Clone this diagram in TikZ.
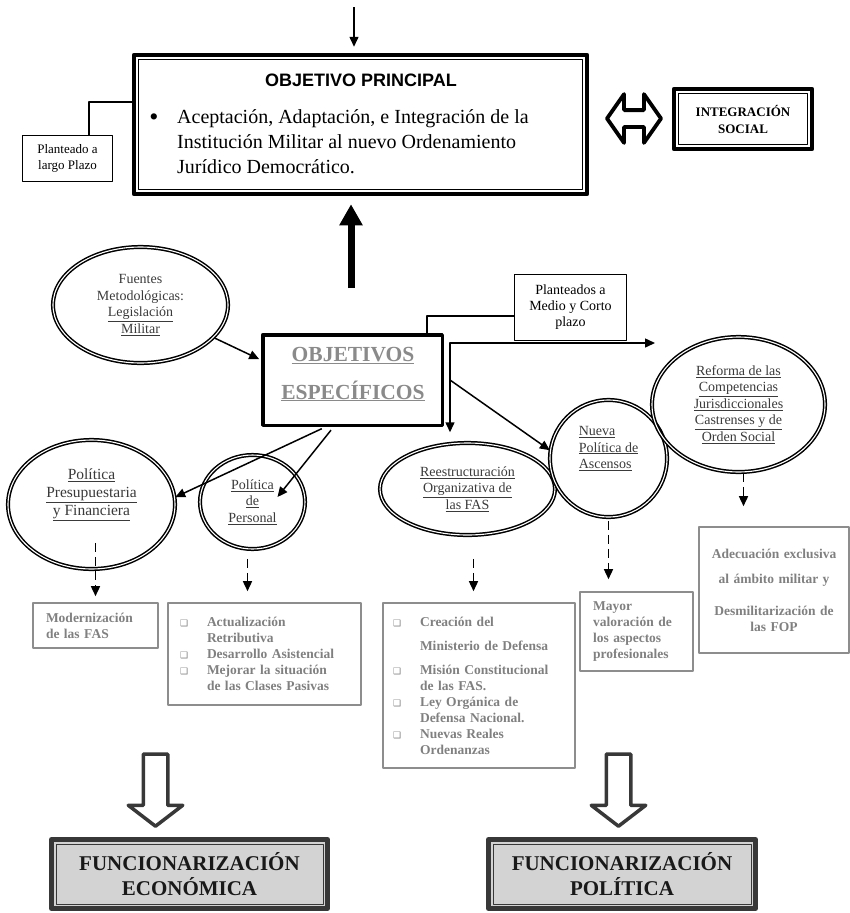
\documentclass[tikz,border=0pt]{standalone}
\usepackage{fontspec}
\setmainfont{Liberation Serif}
\newfontfamily\headfont{Liberation Sans}
\newfontfamily\symfont{DejaVu Sans}
\usetikzlibrary{arrows.meta,shapes.geometric,shapes.arrows,calc}

\definecolor{listgray}{HTML}{808080}
\definecolor{ringgray}{HTML}{3A3A3A}
\definecolor{espgray}{HTML}{8A8A8A}
\definecolor{funcfill}{HTML}{D3D3D3}
\definecolor{funcdark}{HTML}{383838}

\newcommand{\sqbul}{\makebox[27pt][l]{\symfont\fontsize{9}{9}\selectfont ❑}}
\newcommand{\nobul}{\hspace*{27pt}}

\begin{document}
\begin{tikzpicture}[
        x=1pt, y=-1pt,
        line join=round,
        arr/.style = {line width=1.5pt, -{Triangle[length=10pt,width=9pt]}},
        twoarr/.style = {line width=1.5pt, {Triangle[length=10pt,width=9pt]}-{Triangle[length=10pt,width=9pt]}},
        dasharr/.style = {arr, dash pattern=on 9pt off 5pt},
        bigarr/.style = {line width=7pt, -{Triangle[length=21pt,width=22pt]}},
        joint/.style = {line width=1.5pt},
        mainbox/.style = {draw, line width=4.5pt, inner sep=0pt},
        innerframe/.style = {line width=1.3pt},
        smallbox/.style = {draw, line width=1.3pt, inner sep=0pt, align=center},
        ringtext/.style = {align=center, text=ringgray, font=\fontsize{14}{16.5}\selectfont},
        ring/.style = {ellipse, draw, line width=1.5pt, double, double distance=1.1pt, inner sep=0pt, ringtext},
        listbox/.style = {draw=listgray!90, line width=1.6pt, align=left, text=listgray, font=\bfseries\fontsize{13.5}{16}\selectfont},
        funcbox/.style = {draw=funcdark, fill=funcfill, line width=5pt, inner sep=0pt, align=center, text=black!90, font=\bfseries\fontsize{21}{25}\selectfont},
        hollow/.style = {single arrow, draw=funcdark, fill=white, line width=3.5pt, minimum height=72pt, inner sep=10.5pt, single arrow head extend=15pt, single arrow tip angle=105, rotate=-90},
        dblarrow/.style = {double arrow, draw, fill=white, line width=3.8pt, minimum height=54pt, inner sep=6.5pt, double arrow head extend=16pt, double arrow tip angle=110}
    ]

    \useasboundingbox (0,0) rectangle (850,913);

    % objetivo principal
    \node[mainbox, minimum width=453pt, minimum height=139pt] (obj) at (360.5,124.5) {};
    \draw[innerframe] ($(obj.north west)+(7,7)$) rectangle ($(obj.south east)+(-7,-7)$);
    \node[font=\headfont\bfseries\fontsize{18}{20}\selectfont] (objtitle) at (361,80) {OBJETIVO PRINCIPAL};
    \node[font=\fontsize{26}{26}\selectfont] (objbullet) at (154,120) {•};
    \node[anchor=west, align=left, inner sep=0pt, font=\fontsize{20}{25}\selectfont] (objtext) at (177,142)
        {Aceptación, Adaptación, e Integración de la\\Institución Militar al nuevo Ordenamiento\\Jurídico Democrático.};

    \node[smallbox, minimum width=90pt, minimum height=46pt, font=\fontsize{13}{16}\selectfont] (plz) at (67.5,158.5) {Planteado a\\largo Plazo};
    \coordinate (plzbend) at (89,102);
    \draw[joint] (plz.north -| plzbend) |- (obj.west |- plzbend);

    \node[dblarrow] (both) at (634,118.5) {};
    \node[mainbox, minimum width=138pt, minimum height=60pt, align=center, font=\bfseries\fontsize{13}{17}\selectfont] (soc) at (743,119) {INTEGRACIÓN\\SOCIAL};
    \draw[innerframe] ($(soc.north west)+(7,7)$) rectangle ($(soc.south east)+(-7,-7)$);

    \coordinate (topin) at (354,7);
    \draw[arr, shorten >=6pt] (topin) -- (topin |- obj.north);

    % objetivos especificos
    \node[draw, line width=3.5pt, minimum width=179.5pt, minimum height=90.5pt] (esp) at (352.5,380) {};
    \node[align=center, text=espgray, font=\bfseries\fontsize{21.5}{38}\selectfont] (esptxt) at (353,374) {\underline{OBJETIVOS}\\\underline{ESPECÍFICOS}};

    \coordinate (upfoot) at (351,288);
    \draw[bigarr, shorten >=8pt] (upfoot) -- (upfoot |- obj.south);

    \node[ring, minimum width=175pt, minimum height=116pt] (fuen) at (140.5,305) {Fuentes\\Metodológicas:\\\underline{Legislación}\\\underline{Militar}};
    \draw[arr, shorten >=2pt] (fuen.-24) -- ([yshift=20pt]esp.west);

    \node[smallbox, minimum width=112pt, minimum height=66pt, font=\fontsize{14}{16}\selectfont] (pmc) at (570.5,307.5) {Planteados a\\Medio y Corto\\plazo};
    \coordinate (pmcbend) at (427,316);
    \draw[joint] (esp.north -| pmcbend) |- (pmc.west |- pmcbend);

    % ejes de actuacion
    \node[ring, minimum width=167pt, minimum height=129pt] (pres) at (91.5,504.5) {};
    \node[ringtext, font=\fontsize{15.5}{18}\selectfont] (prestxt) at (91.5,495) {\underline{Política}\\\underline{Presupuestaria}\\\underline{y Financiera}};
    \node[ring, minimum width=105pt, minimum height=94pt] (per) at (252.5,502) {\underline{Política}\\\underline{de}\\\underline{Personal}};
    \node[ring, minimum width=175pt, minimum height=92pt] (ree) at (467.5,489) {\underline{Reestructuración}\\\underline{Organizativa de}\\\underline{las FAS}};
    \node[ring, minimum width=117pt, minimum height=117pt] (asc) at (608.5,458.5) {};
    \node[ringtext, align=left] (asctxt) at (608.5,448.5) {\underline{Nueva}\\\underline{Política de}\\\underline{Ascensos}};
    \node[ring, minimum width=173pt, minimum height=135pt] (ref) at (738.5,404.5) {\underline{Reforma de las}\\\underline{Competencias}\\\underline{Jurisdiccionales}\\\underline{Castrenses y de}\\\underline{Orden Social}};

    \draw[arr, shorten <=4pt] (esp.-120) -- (pres.5);
    \draw[arr, shorten <=4pt] (esp.-112) -- ($(per.center)+(25,-5)$);
    \coordinate (split) at (450,343);
    \coordinate (rightend) at (655,343);
    \draw[twoarr, shorten >=10pt] (rightend) -| (ree.north -| split);
    \draw[arr] (split |- esp.east) -- (asc.172);

    % resultados
    \node[listbox, minimum width=125pt, minimum height=45pt, inner xsep=13pt, text width=99pt] (mod) at (95.5,625.5) {Modernización\\de las FAS};
    \node[listbox, minimum width=193pt, minimum height=102pt, inner xsep=12pt, text width=169pt] (act) at (264.5,654) {\sqbul Actualización\\\nobul Retributiva\\\sqbul Desarrollo Asistencial\\\sqbul Mejorar la situación\\\nobul de las Clases Pasivas};
    \node[listbox, minimum width=192pt, minimum height=165pt, inner xsep=10pt, text width=172pt] (crea) at (479,685.5) {\sqbul Creación del\\[8pt]\nobul Ministerio de Defensa\\[8pt]\sqbul Misión Constitucional\\\nobul de las FAS.\\\sqbul Ley Orgánica de\\\nobul Defensa Nacional.\\\sqbul Nuevas Reales\\\nobul Ordenanzas};
    \node[listbox, minimum width=113pt, minimum height=79pt, inner xsep=13pt, text width=87pt] (may) at (636.5,631.5) {Mayor\\valoración de\\los aspectos\\profesionales};
    \node[listbox, align=center, minimum width=150pt, minimum height=126pt, inner xsep=7pt, text width=136pt] (ade) at (774,590) {Adecuación exclusiva\\[9pt]al ámbito militar y\\[16pt]Desmilitarización de\\las FOP};

    \draw[dasharr, shorten >=6pt] ($(mod.north |- pres.south)+(0,-27)$) -- (mod.north);
    \draw[dasharr, shorten <=9pt, shorten >=11pt] ($(per.south)+(-5,0)$) -- ($(per.south |- act.north)+(-5,0)$);
    \draw[dasharr, shorten <=23pt, shorten >=11pt] ($(ree.south)+(6,0)$) -- ($(ree.south |- crea.north)+(6,0)$);
    \draw[dasharr, shorten <=3pt, shorten >=12pt] (asc.south) -- (asc.south |- may.north);
    \draw[dasharr, shorten >=20pt] ($(ref.south)+(5,0)$) -- ($(ref.south |- ade.north)+(5,0)$);

    % funcionarizacion
    \node[hollow] (ecoarrow) at (155.5,785.5) {};
    \node[hollow] (polarrow) at (618.5,785.5) {};
    \node[funcbox, minimum width=276pt, minimum height=69pt] (eco) at (189.5,874) {FUNCIONARIZACIÓN\\ECONÓMICA};
    \draw[innerframe, draw=funcdark, line width=0.8pt] ($(eco.north west)+(7,7)$) rectangle ($(eco.south east)+(-7,-7)$);
    \node[funcbox, minimum width=267pt, minimum height=69pt] (pol) at (622,874) {FUNCIONARIZACIÓN\\POLÍTICA};
    \draw[innerframe, draw=funcdark, line width=0.8pt] ($(pol.north west)+(7,7)$) rectangle ($(pol.south east)+(-7,-7)$);
\end{tikzpicture}
\end{document}
